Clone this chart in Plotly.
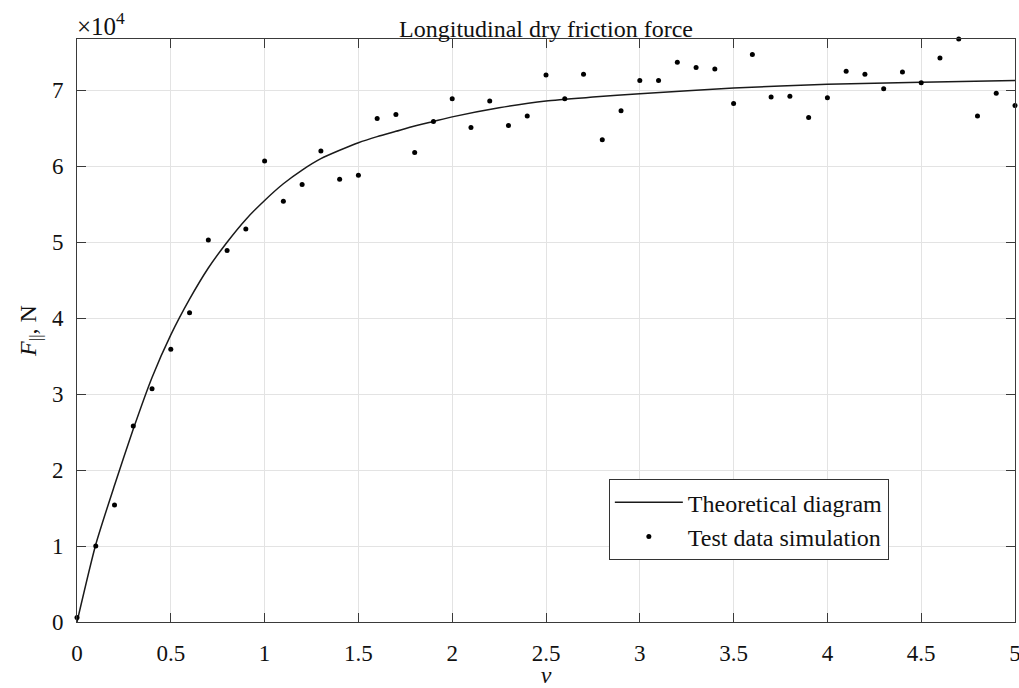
import plotly.graph_objects as go

# Theoretical curve, v and force in N
curve_v = [0, 0.1, 0.2, 0.3, 0.4, 0.5, 0.6, 0.7, 0.8, 0.9, 1.0, 1.1, 1.2, 1.3, 1.4,
           1.5, 1.6, 1.7, 1.8, 1.9, 2.0, 2.25, 2.5, 2.75, 3.0, 3.5, 4.0, 4.5, 5.0]
curve_f = [0, 10200, 18000, 25400, 32200, 37800, 42500, 46600, 50000, 53000, 55500,
           57700, 59500, 61000, 62100, 63100, 63900, 64600, 65300, 65900, 66500,
           67700, 68600, 69100, 69550, 70300, 70800, 71050, 71300]

# Test data simulation points
test_v = [round(0.1 * i, 1) for i in range(51)]
test_f = [600, 10000, 15400, 25800, 30700, 35900, 40700, 50300, 48900, 51750,
          60700, 55400, 57600, 62000, 58300, 58800, 66300, 66800, 61800, 65900,
          68900, 65100, 68600, 65350, 66600, 72000, 68900, 72100, 63500, 67300,
          71300, 71300, 73700, 73000, 72800, 68250, 74700, 69100, 69200, 66400,
          69000, 72500, 72100, 70200, 72400, 71000, 74250, 76750, 66600, 69600,
          68000]

x_ticks = [0, 0.5, 1, 1.5, 2, 2.5, 3, 3.5, 4, 4.5, 5]
x_tick_text = ["0", "0.5", "1", "1.5", "2", "2.5", "3", "3.5", "4", "4.5", "5"]
y_ticks = [0, 10000, 20000, 30000, 40000, 50000, 60000, 70000]
y_tick_text = ["0", "1", "2", "3", "4", "5", "6", "7"]

FONT = "Liberation Serif, Times New Roman, serif"
AX = "#3a3a3a"
GRID = "#e3e3e3"

fig = go.Figure()
fig.add_trace(go.Scatter(
    x=curve_v, y=curve_f, mode="lines", name="Theoretical diagram",
    line=dict(color="#1a1a1a", width=1.5, shape="spline", smoothing=0.6),
))
fig.add_trace(go.Scatter(
    x=test_v, y=test_f, mode="markers", name="Test data simulation",
    marker=dict(color="black", size=5), cliponaxis=False,
))

axis_common = dict(
    showline=True, linecolor=AX, linewidth=1, mirror="ticks",
    ticks="inside", ticklen=9, tickcolor=AX, tickwidth=1,
    showgrid=True, gridcolor=GRID, gridwidth=1, zeroline=False,
    tickfont=dict(family=FONT, size=23, color="#111"),
    automargin=False, ticklabeloverflow="allow",
)

fig.update_layout(
    width=1019, height=688,
    margin=dict(l=77, r=4, t=39, b=66, autoexpand=False),
    paper_bgcolor="white", plot_bgcolor="white",
    font=dict(family=FONT, color="#111"),
    showlegend=True,
    legend=dict(
        x=0.567, y=0.245, xanchor="left", yanchor="top",
        bgcolor="white", bordercolor="#333", borderwidth=1,
        font=dict(family=FONT, size=24, color="#111"),
        itemwidth=68, tracegroupgap=0,
    ),
    title=dict(
        text="Longitudinal dry friction force",
        font=dict(family=FONT, size=24, color="#111"),
        x=0.5, xref="paper", xanchor="center",
        y=1, yref="paper", yanchor="bottom", pad=dict(b=2),
    ),
    xaxis=dict(range=[0, 5], tickvals=x_ticks, ticktext=x_tick_text,
               ticklabelstandoff=10,
               title=dict(text="<i>v</i>", font=dict(family=FONT, size=24), standoff=8),
               **axis_common),
    yaxis=dict(range=[0, 76750], tickvals=y_ticks, ticktext=y_tick_text,
               ticklabelstandoff=8,
               title=dict(text="<i>F</i><sub>||</sub>, N", font=dict(family=FONT, size=24), standoff=8),
               **axis_common),
)

fig.add_annotation(
    text="×10<sup>4</sup>", xref="paper", yref="paper", x=0, y=1,
    xanchor="left", yanchor="bottom", showarrow=False,
    font=dict(family=FONT, size=25, color="#111"), xshift=-2, yshift=-3,
)

# Remove the default 8px page margin so the figure fills the window exactly.
fig.write_html("out.html",
               config={"displayModeBar": False},
               post_script="document.body.style.margin='0';document.body.style.overflow='hidden';")
